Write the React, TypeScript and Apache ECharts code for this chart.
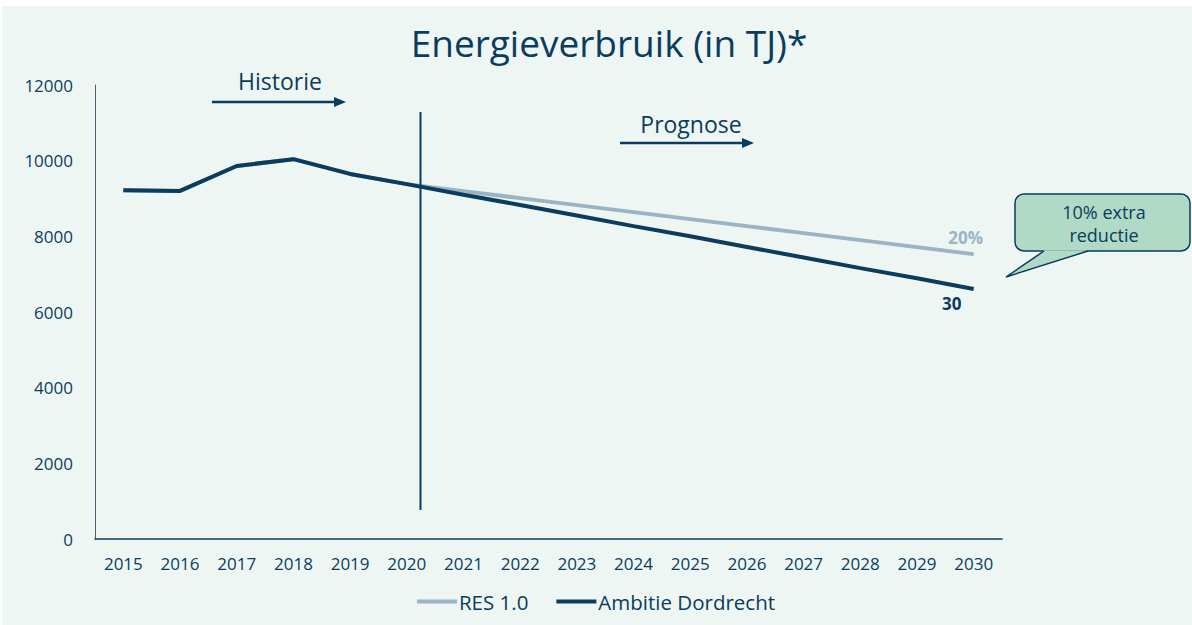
import React, { useEffect, useRef } from "react";
import * as echarts from "echarts";

const years = ["2015","2016","2017","2018","2019","2020","2021","2022","2023","2024","2025","2026","2027","2028","2029","2030"];
const resValues = [9220, 9200, 9860, 10040, 9650, 9380, 9195, 9010, 8825, 8640, 8455, 8270, 8085, 7900, 7715, 7530];
const ambitieValues = [9220, 9200, 9860, 10040, 9650, 9380, 9100, 8830, 8550, 8270, 8000, 7720, 7440, 7160, 6890, 6610];
const yTicks = [0, 2000, 4000, 6000, 8000, 10000, 12000];
const endLabels = ["20%", "30"];

const DARK = "#0B3C5D";
const LIGHT = "#9AB4C4";
const BG = "#EDF6F3";
const FONT = "'Open Sans', 'Noto Sans', sans-serif";

export default function App() {
  const ref = useRef<HTMLDivElement>(null);
  useEffect(() => {
    if (!ref.current) return;
    const chart = echarts.init(ref.current, null, { renderer: "svg" });
    chart.setOption({
      animation: false,
      backgroundColor: "transparent",
      textStyle: { fontFamily: FONT },
      title: {
        text: "Energieverbruik (in TJ)*",
        left: 604,
        top: 19,
        textAlign: "center",
        textStyle: { fontFamily: FONT, fontSize: 37, fontWeight: "normal", color: DARK },
      },
      legend: {
        bottom: 8,
        left: "center",
        itemWidth: 40,
        itemHeight: 4,
        itemGap: 28,
        icon: "rect",
        textStyle: { fontFamily: FONT, fontSize: 20.5, color: DARK, padding: [0, 0, 0, -3] },
        data: ["RES 1.0", "Ambitie Dordrecht"],
      },
      grid: { left: 95, right: 190, top: 85, bottom: 86 },
      xAxis: {
        type: "category",
        data: years,
        boundaryGap: true,
        axisLine: { lineStyle: { color: DARK, width: 1.5 } },
        axisTick: { show: false },
        axisLabel: { color: DARK, fontSize: 17, margin: 16, fontFamily: FONT, interval: 0 },
      },
      yAxis: {
        type: "value",
        min: yTicks[0],
        max: yTicks[yTicks.length - 1],
        interval: 2000,
        axisLine: { show: true, lineStyle: { color: "#4A5E70", width: 1 } },
        axisTick: { show: false },
        splitLine: { show: false },
        axisLabel: { color: DARK, fontSize: 17, margin: 22, fontFamily: FONT, formatter: (v: number) => String(v) },
      },
      series: [
        {
          name: "RES 1.0",
          type: "line",
          symbol: "none",
          color: LIGHT,
          lineStyle: { width: 4, color: LIGHT },
          data: resValues,
          endLabel: {
            show: true,
            formatter: endLabels[0],
            color: LIGHT,
            fontWeight: "bold",
            fontSize: 17,
            fontFamily: FONT,
            align: "center",
            verticalAlign: "middle",
            distance: 0,
            offset: [-8, -17],
          },
          z: 2,
        },
        {
          name: "Ambitie Dordrecht",
          type: "line",
          symbol: "none",
          color: DARK,
          lineStyle: { width: 4, color: DARK },
          data: ambitieValues,
          endLabel: {
            show: true,
            formatter: endLabels[1],
            color: DARK,
            fontWeight: "bold",
            fontSize: 17,
            fontFamily: FONT,
            align: "center",
            verticalAlign: "middle",
            distance: 0,
            offset: [-22, 15],
          },
          z: 3,
        },
      ],
      graphic: [
        { type: "rect", z: -10, shape: { x: 2, y: 6, width: 1190, height: 619 }, style: { fill: BG } },
        { type: "line", z: 5, shape: { x1: 420.5, y1: 112, x2: 420.5, y2: 510 }, style: { stroke: DARK, lineWidth: 2 } },
        // Historie arrow
        { type: "text", z: 5, style: { text: "Historie", x: 280, y: 81, align: "center", verticalAlign: "middle", fontSize: 23, fontFamily: FONT, fill: DARK } },
        { type: "line", z: 5, shape: { x1: 212, y1: 102, x2: 336, y2: 102 }, style: { stroke: DARK, lineWidth: 2.5 } },
        { type: "polygon", z: 5, shape: { points: [[334, 97], [346, 102], [334, 107]] }, style: { fill: DARK } },
        // Prognose arrow
        { type: "text", z: 5, style: { text: "Prognose", x: 691, y: 124, align: "center", verticalAlign: "middle", fontSize: 23, fontFamily: FONT, fill: DARK } },
        { type: "line", z: 5, shape: { x1: 620, y1: 143, x2: 744, y2: 143 }, style: { stroke: DARK, lineWidth: 2.5 } },
        { type: "polygon", z: 5, shape: { points: [[742, 138], [754, 143], [742, 148]] }, style: { fill: DARK } },
        // Callout
        { type: "rect", z: 5, shape: { x: 1015, y: 194, width: 175, height: 57, r: 9 }, style: { fill: "#B0D9C6", stroke: DARK, lineWidth: 1.5 } },
        { type: "polygon", z: 6, shape: { points: [[1044, 250.2], [1006, 277], [1088, 250.2]] }, style: { fill: "#B0D9C6", stroke: "none" } },
        { type: "polyline", z: 7, shape: { points: [[1044, 251], [1006, 277], [1088, 251]] }, style: { stroke: DARK, lineWidth: 1.5, fill: "none" } },
        { type: "text", z: 8, style: { text: "10% extra\nreductie", x: 1104, y: 223, align: "center", verticalAlign: "middle", fontSize: 18, lineHeight: 23, fontFamily: FONT, fill: DARK } },
      ],
    });
    return () => chart.dispose();
  }, []);
  return (
    <div style={{ position: "fixed", left: 0, top: 0, width: 1192, height: 625, background: "#fff" }}>
      <div ref={ref} style={{ width: 1192, height: 625 }} />
    </div>
  );
}
